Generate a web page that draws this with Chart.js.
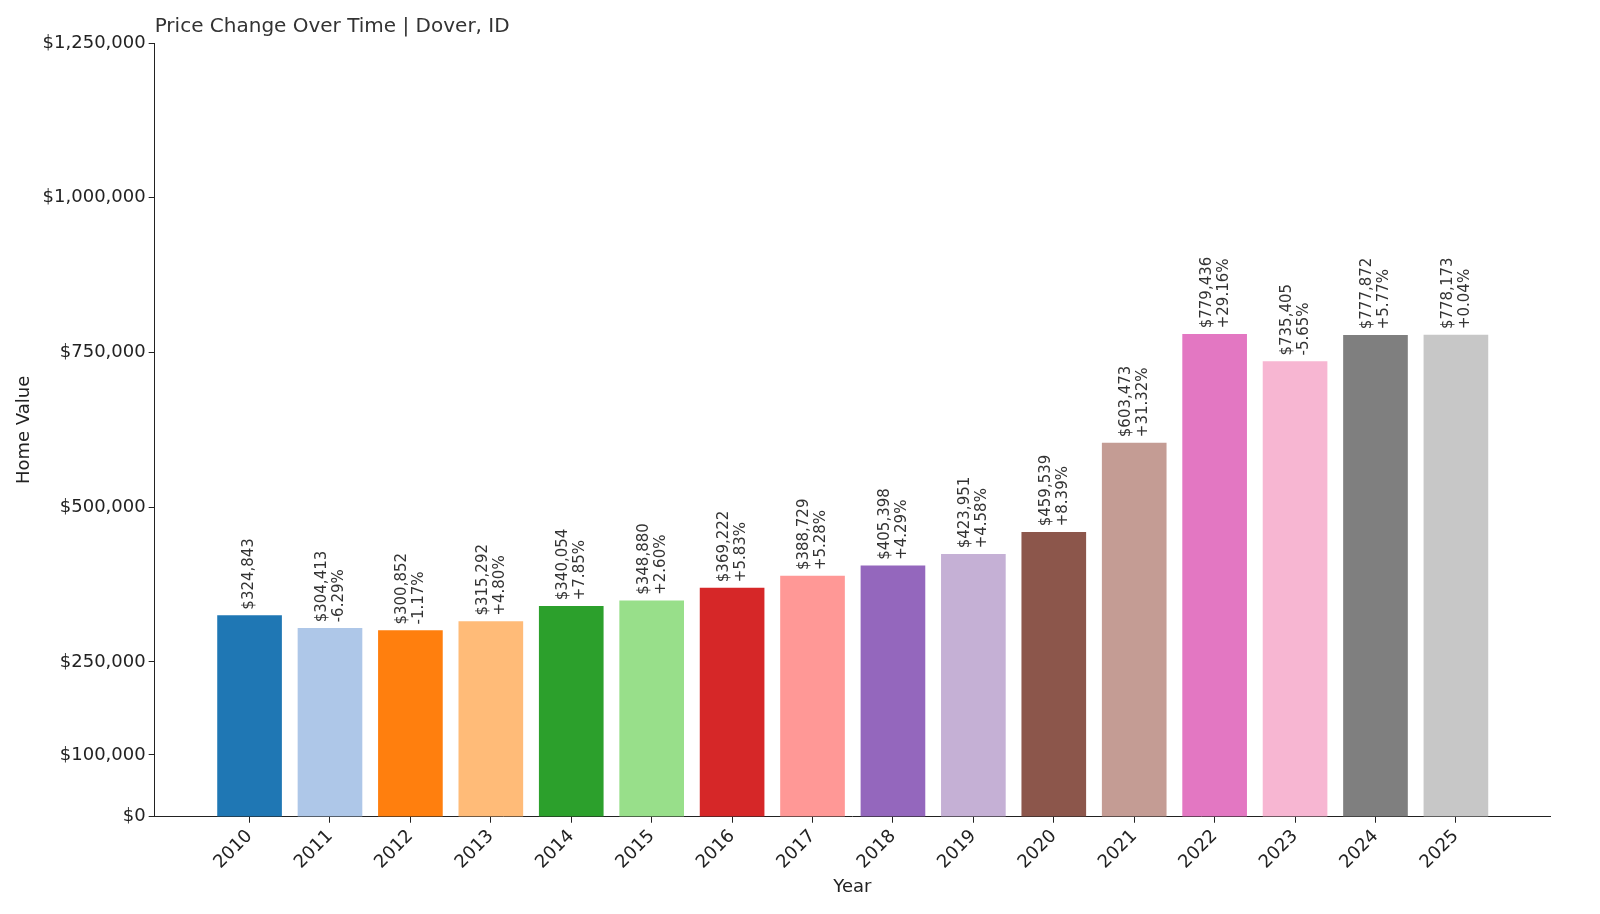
<!DOCTYPE html>
<html>
<head>
<meta charset="utf-8">
<script src="https://cdn.jsdelivr.net/npm/chart.js@4/dist/chart.umd.min.js"></script>
<style>
  html, body { margin: 0; padding: 0; background: #fff; }
  #wrap { width: 1600px; height: 914px; }
</style>
</head>
<body>
<div id="wrap"><canvas id="chart" width="1600" height="914"></canvas></div>
<script>
const years = [2010, 2011, 2012, 2013, 2014, 2015, 2016, 2017, 2018, 2019, 2020, 2021, 2022, 2023, 2024, 2025];
const values = [324843, 304413, 300852, 315292, 340054, 348880, 369222, 388729, 405398, 423951, 459539, 603473, 779436, 735405, 777872, 778173];
const changes = ['', '-6.29%', '-1.17%', '+4.80%', '+7.85%', '+2.60%', '+5.83%', '+5.28%', '+4.29%', '+4.58%', '+8.39%', '+31.32%', '+29.16%', '-5.65%', '+5.77%', '+0.04%'];
const yTicks = [0, 100000, 250000, 500000, 750000, 1000000, 1250000];
const colors = ['#1f77b4', '#aec7e8', '#ff7f0e', '#ffbb78', '#2ca02c', '#98df8a', '#d62728', '#ff9896',
  '#9467bd', '#c5b0d5', '#8c564b', '#c49c94', '#e377c2', '#f7b6d2', '#7f7f7f', '#c7c7c7'];

const FONT = 'DejaVu Sans';
const TITLE = 'Price Change Over Time | Dover, ID';
const money = (v) => '$' + v.toLocaleString('en-US');

// titulo alineado con el borde izquierdo del area del grafico
const titleAtAxis = {
  id: 'titleAtAxis',
  afterDraw(chart) {
    const ctx = chart.ctx;
    ctx.save();
    ctx.fillStyle = '#333';
    ctx.font = '20px ' + FONT;
    ctx.textAlign = 'left';
    ctx.textBaseline = 'bottom';
    ctx.fillText(TITLE, chart.chartArea.left, chart.chartArea.top - 6);
    ctx.restore();
  }
};

// etiquetas giradas encima de cada barra
const barLabels = {
  id: 'barLabels',
  afterDatasetsDraw(chart) {
    const ctx = chart.ctx;
    const meta = chart.getDatasetMeta(0);
    ctx.save();
    ctx.fillStyle = '#333';
    ctx.font = '15px ' + FONT;
    ctx.textAlign = 'left';
    ctx.textBaseline = 'middle';
    meta.data.forEach((bar, i) => {
      const lines = changes[i] ? [money(values[i]), changes[i]] : [money(values[i])];
      const off = lines.length === 2 ? [-8, 9] : [0];
      lines.forEach((t, j) => {
        ctx.save();
        ctx.translate(bar.x + off[j], bar.y - 6);
        ctx.rotate(-Math.PI / 2);
        ctx.fillText(t, 0, 0);
        ctx.restore();
      });
    });
    ctx.restore();
  }
};

new Chart(document.getElementById('chart'), {
  type: 'bar',
  data: {
    datasets: [{
      data: years.map((y, i) => ({ x: y, y: values[i] })),
      backgroundColor: colors,
      barThickness: 64
    }]
  },
  options: {
    responsive: false,
    animation: false,
    layout: { padding: { top: 43, right: 50, left: 10, bottom: 12 } },
    plugins: {
      legend: { display: false },
      tooltip: { enabled: false },
      title: { display: false }
    },
    scales: {
      x: {
        type: 'linear',
        offset: false,
        min: 2008.82,
        max: 2026.17,
        afterBuildTicks: (axis) => { axis.ticks = years.map((v) => ({ value: v })); },
        ticks: {
          callback: (v) => String(v),
          maxRotation: 45, minRotation: 45,
          color: '#222',
          font: { family: FONT, size: 18 }
        },
        grid: { offset: false, drawOnChartArea: false, tickLength: 6, color: '#222' },
        border: { color: '#222' },
        title: { display: true, text: 'Year', color: '#222', font: { family: FONT, size: 18 }, padding: { top: 0 } }
      },
      y: {
        min: 0,
        max: 1250000,
        afterBuildTicks: (axis) => { axis.ticks = yTicks.map((v) => ({ value: v })); },
        ticks: {
          callback: (v) => money(v),
          color: '#222',
          font: { family: FONT, size: 18 }
        },
        grid: { drawOnChartArea: false, tickLength: 6, color: '#222' },
        border: { color: '#222' },
        title: { display: true, text: 'Home Value', color: '#222', font: { family: FONT, size: 18 } }
      }
    }
  },
  plugins: [barLabels, titleAtAxis]
});
</script>
</body>
</html>
